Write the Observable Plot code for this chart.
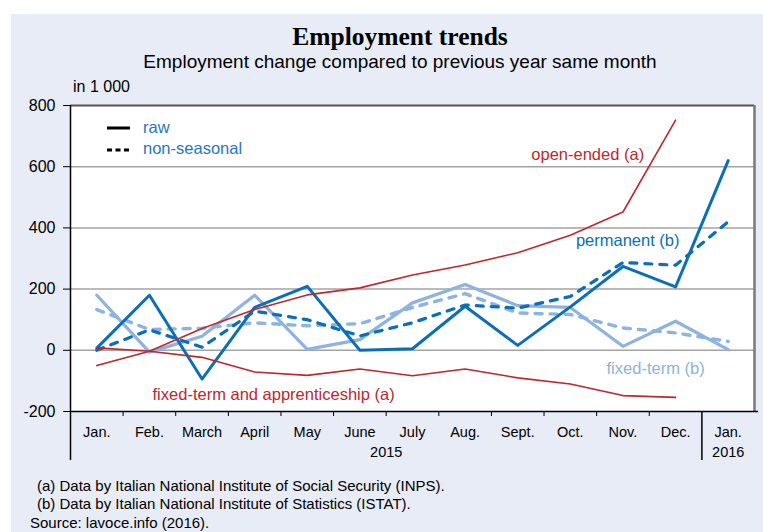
<!DOCTYPE html>
<html>
<head>
<meta charset="utf-8">
<script src="https://cdn.jsdelivr.net/npm/d3@7"></script>
<script src="https://cdn.jsdelivr.net/npm/@observablehq/plot@0.6"></script>
<style>
  body { margin: 0; background: #ffffff; }
  #wrap { position: relative; width: 763px; height: 532px; overflow: hidden; font-family: "Liberation Sans", Arial, sans-serif; }
  #panel { position: absolute; left: 11px; top: 14px; right: 0; bottom: 0; background: #e8ecf7; }
  .abs { position: absolute; white-space: nowrap; }
  #title { left: 37px; width: 726px; top: 22px; text-align: center; font-family: "Liberation Serif", "Times New Roman", serif; font-weight: bold; font-size: 25.5px; color: #000; }
  #subtitle { left: 37px; width: 726px; top: 51px; text-align: center; font-size: 19px; color: #000; }
  #unit { left: 73px; top: 78px; font-size: 16px; color: #000; }
  #chart { position: absolute; left: 0; top: 70px; }
  .legtxt { font-size: 16.5px; color: #1f78c1; }
  .foot { font-size: 15px; line-height: 17px; color: #000; }
</style>
</head>
<body>
<div id="wrap">
  <div id="panel"></div>
  <div id="title" class="abs">Employment trends</div>
  <div id="subtitle" class="abs">Employment change compared to previous year same month</div>
  <div id="unit" class="abs">in 1 000</div>
  <div id="chart"></div>
  <svg class="abs" style="left:100px;top:118px" width="40" height="40">
    <line x1="7" x2="30" y1="10" y2="10" stroke="#000" stroke-width="3"/>
    <line x1="7" x2="30" y1="32" y2="32" stroke="#000" stroke-width="3" stroke-dasharray="5,3.5"/>
  </svg>
  <div class="abs legtxt" style="left:143px;top:118px">raw</div>
  <div class="abs legtxt" style="left:143px;top:139px">non-seasonal</div>
  <div class="abs foot" style="left:37px;top:477px">(a) Data by Italian National Institute of Social Security (INPS).</div>
  <div class="abs foot" style="left:37px;top:495px">(b) Data by Italian National Institute of Statistics (ISTAT).</div>
  <div class="abs foot" style="left:30px;top:514px">Source: lavoce.info (2016).</div>
</div>
<script>
// ---- data ----
const months = ["Jan.", "Feb.", "March", "April", "May", "June", "July", "Aug.", "Sept.", "Oct.", "Nov.", "Dec.", "Jan."];
const years = ["2015", "2016"];
const yTicks = [-200, 0, 200, 400, 600, 800];
// INPS (a), Jan.–Dec. 2015
const openEnded = [-50, -3, 71, 133, 181, 204, 246, 279, 319, 376, 452, 752];
const fixedTermAppr = [8, -3, -23, -71, -82, -61, -83, -61, -90, -110, -148, -154];
// ISTAT (b), Jan. 2015 – Jan. 2016
const permanentRaw = [7, 180, -94, 140, 209, 0, 5, 144, 16, 142, 274, 207, 620];
const permanentNS = [0, 67, 10, 128, 100, 47, 90, 148, 138, 176, 287, 278, 420];
const fixedTermRaw = [180, -6, 46, 180, 3, 35, 155, 215, 146, 140, 13, 95, 2];
const fixedTermNS = [133, 68, 72, 90, 80, 87, 140, 185, 122, 117, 73, 57, 29];

const series = (vals) => vals.map((v, i) => ({i, v}));

const RED = "#c0262d", DARK = "#0a6fb8", LIGHT = "#8db3e0";

const chart = Plot.plot({
  width: 763,
  height: 400,
  marginTop: 35,
  marginBottom: 59,
  marginLeft: 70,
  marginRight: 9,
  style: {background: "transparent", fontFamily: "Liberation Sans, Arial, sans-serif", color: "#000", overflow: "visible"},
  x: {type: "linear", domain: [-0.5, 12.5], axis: null},
  y: {domain: [-200, 800], axis: null},
  marks: [
    Plot.frame({fill: "white", stroke: null}),
    Plot.ruleY([0, 200, 400, 600], {stroke: "#a3a3a3", strokeWidth: 1.5}),
    Plot.ruleY([800], {stroke: "#555", strokeWidth: 2}),
    Plot.ruleX([12.5], {stroke: "#7a7a7a", strokeWidth: 2.5}),
    // ISTAT series
    Plot.line(series(fixedTermNS), {x: "i", y: "v", stroke: LIGHT, strokeWidth: 3.4, strokeDasharray: "7,8"}),
    Plot.line(series(fixedTermRaw), {x: "i", y: "v", stroke: LIGHT, strokeWidth: 3.2}),
    Plot.line(series(permanentNS), {x: "i", y: "v", stroke: DARK, strokeWidth: 3.2, strokeDasharray: "7,8"}),
    Plot.line(series(permanentRaw), {x: "i", y: "v", stroke: DARK, strokeWidth: 3}),
    // INPS series
    Plot.line(series(openEnded), {x: "i", y: "v", stroke: RED, strokeWidth: 1.6}),
    Plot.line(series(fixedTermAppr), {x: "i", y: "v", stroke: RED, strokeWidth: 1.6}),
    // series labels
    Plot.text(["open-ended (a)"], {x: 9.33, y: 640, text: d => d, fill: RED, fontSize: 16.5}),
    Plot.text(["permanent (b)"], {x: 10.09, y: 359, text: d => d, fill: DARK, fontSize: 16.5}),
    Plot.text(["fixed-term (b)"], {x: 10.62, y: -59, text: d => d, fill: LIGHT, fontSize: 16.5}),
    Plot.text(["fixed-term and apprenticeship (a)"], {x: 3.36, y: -144, text: d => d, fill: RED, fontSize: 16.5}),
    // axes lines
    Plot.ruleX([-0.5], {y1: -200, y2: 800, stroke: "#000", strokeWidth: 1.5}),
    Plot.ruleY([-200], {stroke: "#000", strokeWidth: 1.5, insetRight: -4}),
    Plot.axisY({ticks: yTicks, tickSize: 7, tickPadding: 8, fontSize: 16, stroke: "#000", tickFormat: d => String(d), label: null}),
    Plot.axisX({ticks: d3.range(0.5, 11, 1), tickSize: 5, tickFormat: () => "", stroke: "#000", label: null}),
    Plot.axisX({ticks: [-0.5, 11.5], tickSize: 49, strokeWidth: 1.5, tickFormat: () => "", stroke: "#000", label: null}),
    Plot.axisX({ticks: d3.range(0, 13), tickSize: 0, tickPadding: 15, fontSize: 14.5, tickFormat: i => months[i], label: null}),
    Plot.axisX({ticks: [5.5, 12], tickSize: 0, tickPadding: 35, fontSize: 14.5, tickFormat: i => (i < 12 ? years[0] : years[1]), label: null})
  ]
});
document.getElementById("chart").appendChild(chart);
</script>
</body>
</html>
